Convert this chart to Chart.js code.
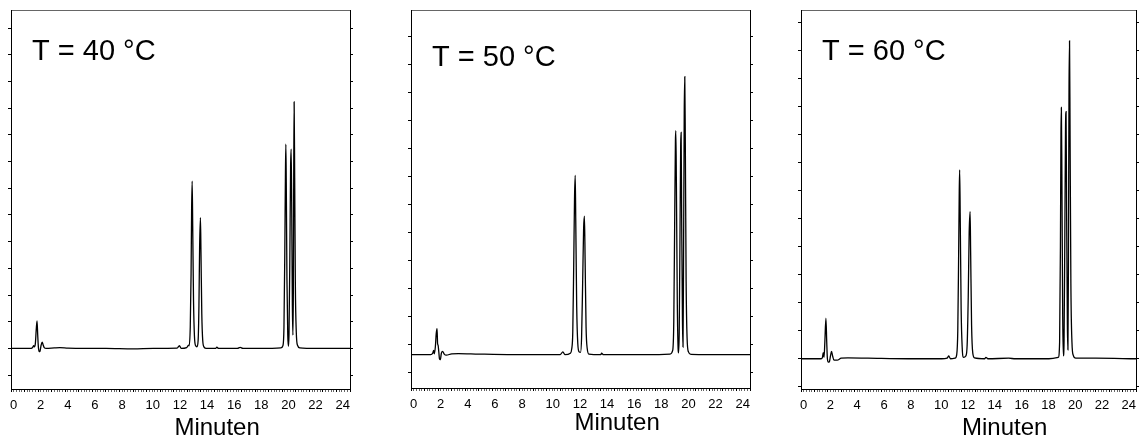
<!doctype html>
<html lang="de">
<head>
<meta charset="utf-8">
<title>Chromatogramme</title>
<script src="https://cdn.jsdelivr.net/npm/chart.js"></script>
<style>
  * { margin: 0; padding: 0; }
  body { width: 1142px; height: 439px; background: #fff; position: relative; overflow: hidden; }
  .panel { position: absolute; top: 0; height: 439px; }
</style>
</head>
<body>
<div class="panel" style="left:0px;width:360px"><canvas id="c40" width="360" height="439"></canvas></div>
<div class="panel" style="left:400px;width:360px"><canvas id="c50" width="360" height="439"></canvas></div>
<div class="panel" style="left:790px;width:352px"><canvas id="c60" width="352" height="439"></canvas></div>

<script>
// retention time (min) and detector signal (baseline = 0)
const time40 = [0, 1.5, 1.62, 1.67, 1.72, 1.8, 1.86, 1.92, 1.97, 2.02, 2.08, 2.14, 2.22, 2.3, 2.36, 2.45, 2.6, 3.2, 3.6, 4.2, 5.5, 7.0, 9.0, 10.5,
  12.25, 12.42, 12.55, 12.95, 13.09, 13.14, 13.22, 13.28, 13.32, 13.36, 13.4, 13.46, 13.53, 13.62, 13.71, 13.8, 13.86, 13.91, 13.97, 14.01, 14.07, 14.14, 14.24, 14.4,
  15.1, 15.18, 15.3, 16.7, 16.9, 17.1, 19.0, 19.9, 20.05, 20.13, 20.19, 20.24, 20.27, 20.3, 20.35, 20.41, 20.46, 20.5, 20.56, 20.62, 20.66, 20.7, 20.75, 20.79,
  20.82, 20.85, 20.88, 20.92, 20.97, 21.04, 21.13, 21.3, 22.5, 25];
const signal40 = [0, 0, 0.06, 0.1, 0.06, 0.2, 0.7, 1.03, 0.5, 0.05, -0.12, -0.1, 0.12, 0.24, 0.15, 0.03, 0, 0.02, 0.03, 0.01, 0, 0, -0.02, 0,
  0.01, 0.1, 0, 0.03, 0.12, 0.1, 0.8, 2.8, 5.2, 6.27, 4.6, 1.8, 0.45, 0.1, 0.06, 0.3, 1.6, 3.8, 4.9, 3.6, 1.3, 0.3, 0.05, 0,
  0, 0.05, 0, 0, 0.04, 0, 0, 0.02, 0.1, 0.8, 3.5, 6.6, 7.65, 6.2, 2.6, 0.5, 0.08, 0.5, 3.2, 6.8, 7.47, 5.5, 1.6, 0.5,
  2.0, 6.5, 9.24, 6.4, 2.4, 0.6, 0.12, 0.02, 0, 0];

const time50 = [0, 1.45, 1.6, 1.67, 1.72, 1.8, 1.86, 1.92, 1.96, 2.0, 2.05, 2.1, 2.16, 2.24, 2.33, 2.45, 2.6, 3.0, 3.5, 5.0, 7.5, 9.5, 11.0, 11.2, 11.35,
  11.75, 11.85, 11.93, 12.0, 12.06, 12.11, 12.15, 12.22, 12.3, 12.4, 12.5, 12.58, 12.66, 12.73, 12.79, 12.84, 12.91, 13.0, 13.12, 14.0, 14.05, 14.2, 16.0, 18.0,
  19.1, 19.3, 19.38, 19.45, 19.5, 19.53, 19.57, 19.64, 19.7, 19.73, 19.78, 19.84, 19.89, 19.92, 19.96, 20.02, 20.06, 20.1, 20.15, 20.19, 20.23, 20.29, 20.36,
  20.46, 20.65, 22.0, 25];
const signal50 = [0, 0, 0.05, 0.15, 0.03, 0.3, 0.75, 0.93, 0.4, 0.33, 0.1, -0.15, -0.18, 0.05, 0.12, 0.02, -0.02, 0.03, 0.04, 0.02, 0, 0, 0, 0.1, 0,
  0.05, 0.2, 0.8, 3.2, 5.6, 6.4, 4.8, 1.7, 0.4, 0.1, 0.08, 0.6, 2.6, 4.5, 4.94, 3.4, 1.0, 0.2, 0.02, 0, 0.05, 0, 0, 0,
  0.02, 0.15, 1.2, 5.0, 7.6, 7.99, 6.2, 1.8, 0.2, 0.06, 0.8, 4.5, 7.5, 7.93, 5.0, 1.2, 0.27, 3.5, 8.6, 9.92, 7.5, 2.6, 0.6,
  0.1, 0.01, 0, 0];

const time60 = [0, 1.5, 1.6, 1.66, 1.72, 1.78, 1.86, 1.92, 1.97, 2.04, 2.12, 2.2, 2.28, 2.36, 2.46, 2.7, 3.0, 3.5, 5.0, 8.0, 10.5, 10.9, 11.03, 11.15,
  11.5, 11.62, 11.7, 11.76, 11.81, 11.84, 11.88, 11.95, 12.03, 12.13, 12.3, 12.4, 12.48, 12.55, 12.62, 12.66, 12.73, 12.82, 12.95, 13.7, 13.8, 13.95,
  15.5, 16.0, 18.5, 19.2, 19.3, 19.36, 19.4, 19.43, 19.47, 19.53, 19.58, 19.63, 19.69, 19.74, 19.78, 19.82, 19.88, 19.92, 19.96, 20.0, 20.04, 20.08,
  20.14, 20.22, 20.32, 20.5, 22.0, 25];
const signal60 = [0, 0, 0.05, 0.22, 0.05, 0.6, 1.45, 0.6, 0, -0.12, -0.1, 0.1, 0.26, 0.1, -0.05, -0.05, 0.02, 0.03, 0.02, 0, 0, 0.02, 0.1, 0,
  0.02, 0.15, 1.0, 3.5, 6.0, 6.75, 5.2, 1.8, 0.4, 0.05, 0.1, 0.5, 2.2, 4.5, 5.26, 3.8, 1.2, 0.2, 0.03, 0, 0.05, 0,
  0.02, 0, 0, 0.05, 0.6, 4.0, 8.0, 8.98, 6.5, 1.5, 0.1, 0.6, 4.5, 8.2, 8.83, 5.5, 1.2, 0.32, 3.6, 9.5, 11.36, 8.0,
  2.7, 0.6, 0.12, 0.02, 0.02, 0];

const panelLabels = ['T = 40 °C', 'T = 50 °C', 'T = 60 °C'];
const axisTitle = 'Minuten';
const xMin = 0, xMax = 25, xLabelStep = 2, xMinorStep = 0.2;

const FONT = '"Liberation Sans", Arial, Helvetica, sans-serif';

// layout of each panel box inside its canvas
const panels = [
  { id: 'c40', time: time40, signal: signal40, label: panelLabels[0], padL: 11, padR: 10, padT: 10, padB: 50, yMin: -1.52, yMax: 12.68, yTickOffset: 0, labelDy: 50, titleY: 435 },
  { id: 'c50', time: time50, signal: signal50, label: panelLabels[1], padL: 11, padR: 10, padT: 10, padB: 51, yMin: -1.19, yMax: 12.3, yTickOffset: 0.37, labelDy: 56, titleY: 430 },
  { id: 'c60', time: time60, signal: signal60, label: panelLabels[2], padL: 11, padR: 2, padT: 10, padB: 50, yMin: -1.08, yMax: 12.46, yTickOffset: 0, labelDy: 50, titleY: 435 }
];

const panelText = {
  id: 'panelText',
  afterDraw(chart, args, opts) {
    const { ctx, chartArea, scales } = chart;
    ctx.save();
    ctx.fillStyle = '#000';
    ctx.textBaseline = 'alphabetic';
    ctx.font = '29px ' + FONT;
    ctx.textAlign = 'left';
    ctx.fillText(opts.label, chartArea.left + 21, chartArea.top + opts.labelDy);
    ctx.font = '24px ' + FONT;
    ctx.textAlign = 'center';
    ctx.fillText(axisTitle, scales.x.getPixelForValue(15.2), opts.titleY);
    ctx.restore();
  }
};

function yTicks(p) {
  const out = [];
  for (let v = Math.ceil(p.yMin - p.yTickOffset); v + p.yTickOffset <= p.yMax; v++) {
    out.push({ value: v + p.yTickOffset });
  }
  return out;
}

panels.forEach(p => {
  const points = p.time.map((t, i) => ({ x: t, y: p.signal[i] }));
  const sideAxis = (pos, width) => ({
    type: 'linear',
    position: pos,
    min: p.yMin,
    max: p.yMax,
    afterBuildTicks: s => { s.ticks = yTicks(p); },
    afterFit: s => { s.width = width; },
    ticks: { display: false },
    grid: { drawOnChartArea: false, drawTicks: true, tickLength: 3, tickColor: '#000' },
    border: { display: true, color: '#000', width: 1 }
  });

  new Chart(document.getElementById(p.id), {
    type: 'line',
    data: {
      datasets: [{
        data: points,
        borderColor: '#000',
        borderWidth: 1.3,
        pointRadius: 0,
        cubicInterpolationMode: 'monotone',
        fill: false
      }]
    },
    options: {
      responsive: false,
      animation: false,
      layout: { padding: 0 },
      plugins: {
        legend: { display: false },
        tooltip: { enabled: false },
        panelText: { label: p.label, labelDy: p.labelDy, titleY: p.titleY }
      },
      scales: {
        x: {
          type: 'linear',
          position: 'bottom',
          min: xMin,
          max: xMax,
          afterBuildTicks: s => {
            const t = [];
            for (let i = 0; i * xMinorStep <= xMax + 1e-9; i++) t.push({ value: i / 5 });
            s.ticks = t;
          },
          afterFit: s => { s.height = p.padB; },
          ticks: {
            autoSkip: false,
            maxRotation: 0,
            align: 'start',
            labelOffset: -1,
            padding: 6,
            color: '#000',
            font: { family: FONT, size: 13 },
            callback: v => (Number.isInteger(v) && v % xLabelStep === 0 ? String(v) : '')
          },
          grid: {
            drawOnChartArea: false,
            drawTicks: true,
            tickLength: 3,
            tickColor: c => (Number.isInteger(c.tick.value) ? '#000' : '#666')
          },
          border: { display: true, color: '#000', width: 1 }
        },
        xTop: {
          type: 'linear',
          position: 'top',
          min: xMin,
          max: xMax,
          afterFit: s => { s.height = p.padT; },
          ticks: { display: false },
          grid: { drawOnChartArea: false, drawTicks: false },
          border: { display: true, color: '#666', width: 1 }
        },
        y: sideAxis('left', p.padL),
        yRight: sideAxis('right', p.padR)
      }
    },
    plugins: [panelText]
  });
});
</script>
</body>
</html>
